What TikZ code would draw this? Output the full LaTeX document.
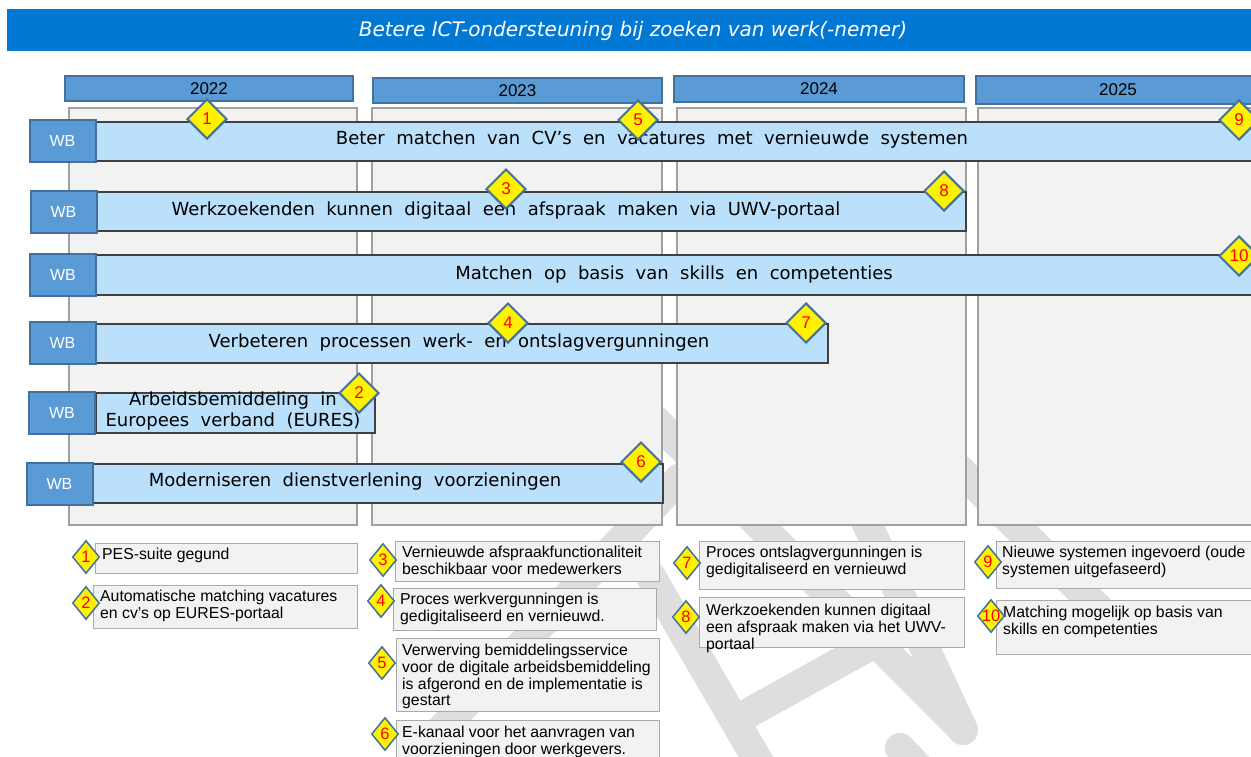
\documentclass[tikz,border=0pt]{standalone}
\usepackage{fontspec}
\setmainfont{DejaVu Sans}
\newfontfamily\barfont[WordSpace=2]{DejaVu Sans}
\newfontfamily\boxfont{Liberation Sans}
\usetikzlibrary{shapes.geometric}

\definecolor{titleblue}{RGB}{0,120,212}
\definecolor{wbblue}{RGB}{91,155,213}
\definecolor{wbedge}{RGB}{65,113,156}
\definecolor{barblue}{RGB}{187,224,251}
\definecolor{baredge}{RGB}{64,64,64}
\definecolor{lanefill}{RGB}{242,242,242}
\definecolor{laneedge}{RGB}{160,160,160}
\definecolor{noteedge}{RGB}{170,170,170}
\definecolor{markgray}{RGB}{222,222,222}

\tikzset{
  yearbox/.style={draw=wbedge, fill=wbblue, line width=2pt, inner sep=0pt, font=\boxfont\fontsize{17}{19}\selectfont},
  lane/.style={draw=laneedge, fill=lanefill, line width=2pt, inner sep=0pt, anchor=north west},
  bar/.style={draw=baredge, fill=barblue, line width=2pt, inner sep=0pt, anchor=north west},
  wbbox/.style={draw=wbedge, fill=wbblue, line width=2pt, inner sep=0pt, minimum width=66pt, minimum height=42pt, text=white, font=\boxfont\fontsize{16}{18}\selectfont},
  bartext/.style={inner sep=0pt, align=center, font=\barfont\fontsize{18}{21}\selectfont},
  mile/.style={diamond, draw=wbedge, fill=yellow, line width=2pt, inner sep=0pt, minimum width=40pt, minimum height=40pt, text=red, font=\boxfont\fontsize{17}{17}\selectfont},
  notemile/.style={mile, line width=1.5pt, minimum width=27pt, minimum height=33pt, font=\boxfont\fontsize{16.5}{16.5}\selectfont},
  note/.style={draw=noteedge, fill=lanefill, line width=1.2pt, inner sep=0pt, anchor=north west},
  notetext/.style={inner sep=0pt, anchor=north west, align=left, font=\boxfont\fontsize{15.8}{16.7}\selectfont},
  watermark/.style={draw=markgray, line width=30pt, line cap=round}
}

\begin{document}
\begin{tikzpicture}[x=1pt, y=-1pt]
    \useasboundingbox[fill=white] (0,0) rectangle (1251,756);

    % watermark
    \begin{scope}
        \clip (0,0) rectangle (1251,756);
        \draw[watermark] (640,405) -- (963,730);
        \draw[watermark] (835,455) -- (963,730);
        \draw[watermark] (960,470) -- (1110,620);
        \draw[watermark] (680,478) -- (420,752);
        \draw[watermark] (650,575) -- (775,790);
        \draw[watermark] (745,715) -- (880,640);
        \draw[watermark] (900,748) -- (940,790);
    \end{scope}

    % title
    \node[fill=titleblue, inner sep=0pt, minimum width=1260pt, minimum height=42pt, anchor=north west] (band) at (7,9) {};
    \node[text=white, inner sep=0pt, font=\itshape\fontsize{20}{22}\selectfont] (title) at (633,31) {Betere ICT-ondersteuning bij zoeken van werk(-nemer)};

    % lanes
    \node[lane, minimum width=288pt, minimum height=417pt] (lane22) at (68,107) {};
    \node[lane, minimum width=290pt, minimum height=417pt] (lane23) at (371,107) {};
    \node[lane, minimum width=289pt, minimum height=417pt] (lane24) at (676,107) {};
    \node[lane, minimum width=290pt, minimum height=417pt] (lane25) at (977,107) {};

    \node[yearbox, minimum width=288pt, minimum height=25pt] (yr22) at (209,88.5) {2022};
    \node[yearbox, minimum width=289pt, minimum height=25pt] (yr23) at (517.5,90.5) {2023};
    \node[yearbox, minimum width=290pt, minimum height=26pt] (yr24) at (819,89) {2024};
    \node[yearbox, minimum width=284pt, minimum height=28pt] (yr25) at (1118,90) {2025};

    % bars
    \node[bar, minimum width=1170pt, minimum height=39pt] (bar1) at (95,121) {};
    \node[bar, minimum width=870pt, minimum height=39pt] (bar2) at (95,191) {};
    \node[bar, minimum width=1170pt, minimum height=40pt] (bar3) at (95,254) {};
    \node[bar, minimum width=732pt, minimum height=39pt] (bar4) at (95,323) {};
    \node[bar, minimum width=279pt, minimum height=40pt] (bar5) at (95,392) {};
    \node[bar, minimum width=570pt, minimum height=39pt] (bar6) at (92,463) {};

    \node[wbbox] (wb1) at (62.5,140.5) {WB};
    \node[wbbox] (wb2) at (63.5,212) {WB};
    \node[wbbox] (wb3) at (63,274.5) {WB};
    \node[wbbox] (wb4) at (62.5,343) {WB};
    \node[wbbox] (wb5) at (62,413) {WB};
    \node[wbbox] (wb6) at (59.5,483.5) {WB};

    \node[bartext] (txt1) at (652,140) {Beter matchen van CV’s en vacatures met vernieuwde systemen};
    \node[bartext] (txt2) at (506,211) {Werkzoekenden kunnen digitaal een afspraak maken via UWV-portaal};
    \node[bartext] (txt3) at (674,275) {Matchen op basis van skills en competenties};
    \node[bartext] (txt4) at (459,343) {Verbeteren processen werk- en ontslagvergunningen};
    \node[bartext] (txt5) at (233,411) {Arbeidsbemiddeling in\\Europees verband (EURES)};
    \node[bartext] (txt6) at (355,482) {Moderniseren dienstverlening voorzieningen};

    % milestones
    \node[mile] (m1) at (207,119) {1};
    \node[mile] (m2) at (359,393) {2};
    \node[mile] (m3) at (506,189) {3};
    \node[mile] (m4) at (508,323) {4};
    \node[mile] (m5) at (638,120) {5};
    \node[mile] (m6) at (641,462) {6};
    \node[mile] (m7) at (806,323) {7};
    \node[mile] (m8) at (944,191) {8};
    \node[mile] (m9) at (1239,120) {9};
    \node[mile] (m10) at (1239,256) {\makebox[0pt]{10}};

    % legend
    \node[note, minimum width=262pt, minimum height=30pt] (note1) at (95,543) {};
    \node[notetext] (text1) at (102,548) {PES-suite gegund};
    \node[notemile] (key1) at (86,557) {1};

    \node[note, minimum width=264pt, minimum height=43pt] (note2) at (93,585) {};
    \node[notetext] (text2) at (100,590) {Automatische matching vacatures\\en cv’s op EURES-portaal};
    \node[notemile] (key2) at (86,603) {2};

    \node[note, minimum width=264pt, minimum height=40pt] (note3) at (395,541) {};
    \node[notetext] (text3) at (402,546) {Vernieuwde afspraakfunctionaliteit\\beschikbaar voor medewerkers};
    \node[notemile] (key3) at (383,560) {3};

    \node[note, minimum width=263pt, minimum height=42pt] (note4) at (393,588) {};
    \node[notetext] (text4) at (400,593) {Proces werkvergunningen is\\gedigitaliseerd en vernieuwd.};
    \node[notemile] (key4) at (381,601) {4};

    \node[note, minimum width=263pt, minimum height=73pt] (note5) at (396,638) {};
    \node[notetext] (text5) at (402,644) {Verwerving bemiddelingsservice\\voor de digitale arbeidsbemiddeling\\is afgerond en de implementatie is\\gestart};
    \node[notemile] (key5) at (382,663) {5};

    \node[note, minimum width=263pt, minimum height=45pt] (note6) at (396,720) {};
    \node[notetext] (text6) at (402,726) {E-kanaal voor het aanvragen van\\voorzieningen door werkgevers.};
    \node[notemile] (key6) at (385,734) {6};

    \node[note, minimum width=265pt, minimum height=48pt] (note7) at (699,541) {};
    \node[notetext] (text7) at (706,546) {Proces ontslagvergunningen is\\gedigitaliseerd en vernieuwd};
    \node[notemile] (key7) at (687,563) {7};

    \node[note, minimum width=265pt, minimum height=50pt] (note8) at (699,597) {};
    \node[notetext] (text8) at (706,604) {Werkzoekenden kunnen digitaal\\een afspraak maken via het UWV-\\portaal};
    \node[notemile] (key8) at (686,617) {8};

    \node[note, minimum width=270pt, minimum height=47pt] (note9) at (996,541) {};
    \node[notetext] (text9) at (1002,546) {Nieuwe systemen ingevoerd (oude\\systemen uitgefaseerd)};
    \node[notemile] (key9) at (988,562) {9};

    \node[note, minimum width=270pt, minimum height=54pt] (note10) at (996,600) {};
    \node[notetext] (text10) at (1003,606) {Matching mogelijk op basis van\\skills en competenties};
    \node[notemile] (key10) at (991,616) {\makebox[0pt]{10}};
\end{tikzpicture}
\end{document}
